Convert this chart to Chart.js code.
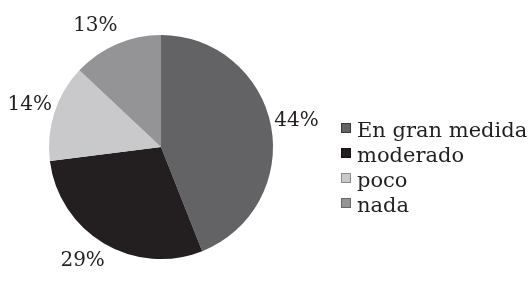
<!DOCTYPE html>
<html>
<head>
<meta charset="utf-8">
<script src="https://cdn.jsdelivr.net/npm/chart.js@4/dist/chart.umd.min.js"></script>
<style>
  html, body { margin: 0; padding: 0; background: #fff; }
  #wrap { width: 531px; height: 283px; }
</style>
</head>
<body>
<div id="wrap"><canvas id="grafica"></canvas></div>
<script>
// --- DATOS ---
const categorias = ['En gran medida', 'moderado', 'poco', 'nada'];
const porcentajes = [44, 29, 14, 13];
const colores = ['#636365', '#231f20', '#c9c9cb', '#949497'];
const bordesLeyenda = ['#3a3a3a', '#111111', '#8a8a8a', '#666666'];

// pequeños giros (grados) de cada etiqueta respecto al centro de su rebanada
const giroEtiqueta = [0, 4, 0, -5];

const fuente = '"DejaVu Serif", "Liberation Serif", serif';

// etiquetas de porcentaje fuera del pastel
const etiquetasFuera = {
    id: 'etiquetasFuera',
    afterDatasetsDraw(chart) {
        const ctx = chart.ctx;
        const arcos = chart.getDatasetMeta(0).data;
        ctx.save();
        ctx.font = '20px ' + fuente;
        ctx.fillStyle = '#231f20';
        ctx.textAlign = 'center';
        ctx.textBaseline = 'middle';
        arcos.forEach((arco, i) => {
            const medio = (arco.startAngle + arco.endAngle) / 2 + giroEtiqueta[i] * Math.PI / 180;
            const r = arco.outerRadius + 26;
            const x = arco.x + Math.cos(medio) * r;
            const y = arco.y + Math.sin(medio) * r;
            ctx.fillText(porcentajes[i] + '%', x, y);
        });
        ctx.restore();
    }
};

// leyenda a la derecha
const leyendaDerecha = {
    id: 'leyendaDerecha',
    afterDraw(chart) {
        const ctx = chart.ctx;
        ctx.save();
        ctx.font = '21px ' + fuente;
        ctx.textBaseline = 'alphabetic';
        ctx.textAlign = 'left';
        categorias.forEach((cat, i) => {
            const base = 137 + i * 25;
            ctx.fillStyle = colores[i];
            ctx.fillRect(341, base - 14, 10, 10);
            ctx.strokeStyle = bordesLeyenda[i];
            ctx.lineWidth = 1;
            ctx.strokeRect(341.5, base - 13.5, 9, 9);
            ctx.fillStyle = '#231f20';
            ctx.fillText(cat, 357, base);
        });
        ctx.restore();
    }
};

new Chart(document.getElementById('grafica'), {
    type: 'pie',
    data: {
        labels: categorias,
        datasets: [{
            data: porcentajes,
            backgroundColor: colores,
            borderWidth: 0
        }]
    },
    options: {
        responsive: true,
        maintainAspectRatio: false,
        animation: false,
        layout: { padding: { top: 35, bottom: 24, left: 49, right: 258 } },
        plugins: {
            legend: { display: false },
            tooltip: { enabled: false }
        }
    },
    plugins: [etiquetasFuera, leyendaDerecha]
});
</script>
</body>
</html>
